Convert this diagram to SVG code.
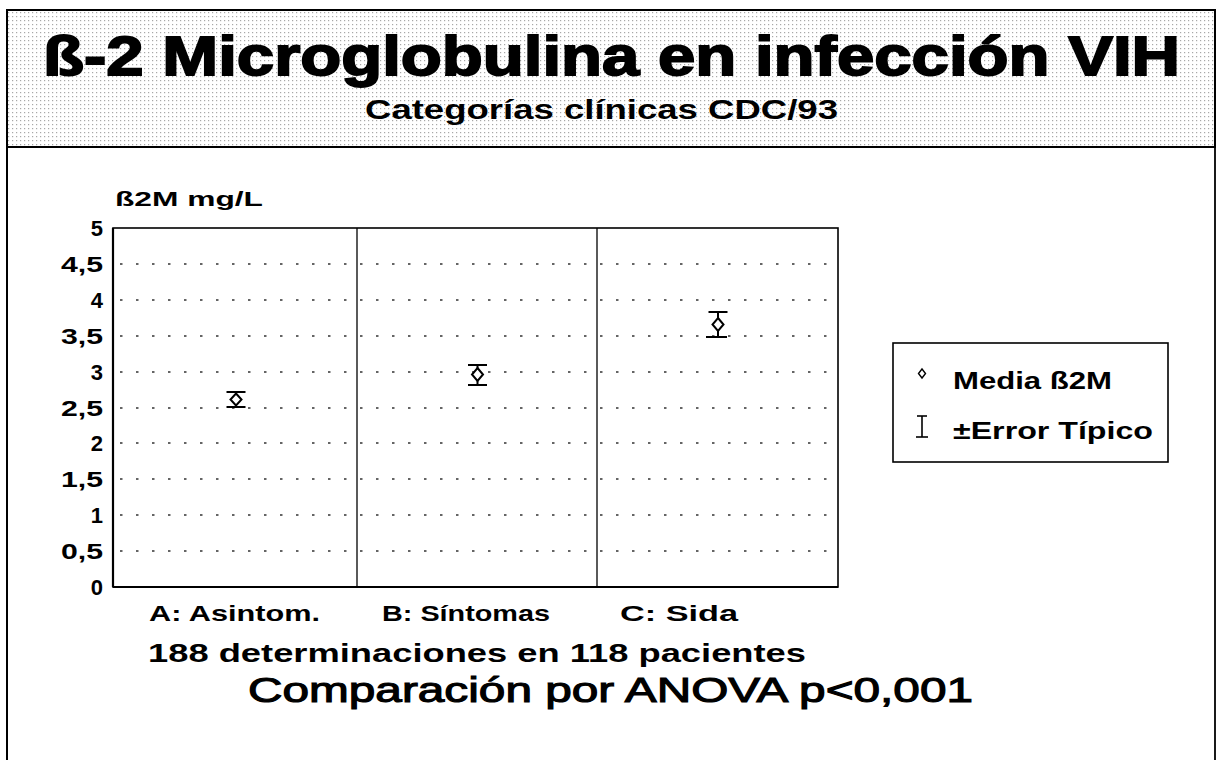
<svg xmlns="http://www.w3.org/2000/svg" width="1218" height="760" viewBox="0 0 1218 760">
  <style>
    .t { font-family: "Liberation Sans", Arial, sans-serif; fill: #000; }
    .b { font-weight: bold; }
    .frame { fill: none; stroke: #000; stroke-width: 1.6; }
    .sep { stroke: #000; stroke-width: 1.3; }
    .grid { stroke: #333; stroke-width: 1.4; stroke-dasharray: 2.5 13.5; }
    .eb { stroke: #000; stroke-width: 2; fill: none; }
    .dia { fill: #fff; stroke: #000; stroke-width: 2; }
    .ytick { font-size: 22px; text-anchor: end; }
    .xlab { font-size: 22px; }
  </style>
  <defs>
    <pattern id="stip" x="0" y="0" width="4" height="4" patternUnits="userSpaceOnUse">
      <rect width="4" height="4" fill="#fff"/>
      <rect x="0" y="0" width="1.2" height="1.2" fill="#a8a8a8"/>
    </pattern>
  </defs>
  <rect width="1218" height="760" fill="#fff"/>

  <!-- outer page border -->
  <g id="page-border">
    <line x1="7" y1="10" x2="7" y2="760" stroke="#000" stroke-width="2"/>
    <line x1="1215" y1="10" x2="1215" y2="760" stroke="#000" stroke-width="1.8"/>
  </g>

  <!-- header -->
  <g id="header">
    <rect x="7" y="10" width="1208" height="137" fill="url(#stip)" stroke="#000" stroke-width="2"/>
    <text class="t b" x="43" y="75" font-size="55" textLength="1137" lengthAdjust="spacingAndGlyphs" stroke="#000" stroke-width="1.8">ß-2 Microglobulina en infección VIH</text>
    <text class="t b" x="365" y="119" font-size="27" textLength="473" lengthAdjust="spacingAndGlyphs">Categorías clínicas CDC/93</text>
  </g>

  <!-- plot -->
  <g id="plot">
    <text class="t b" x="115" y="206" font-size="21" textLength="148" lengthAdjust="spacingAndGlyphs">ß2M mg/L</text>
    <g class="grid">
      <line x1="120" y1="264" x2="838" y2="264"/>
      <line x1="120" y1="300" x2="838" y2="300"/>
      <line x1="120" y1="336" x2="838" y2="336"/>
      <line x1="120" y1="372" x2="838" y2="372"/>
      <line x1="120" y1="408" x2="838" y2="408"/>
      <line x1="120" y1="443" x2="838" y2="443"/>
      <line x1="120" y1="479" x2="838" y2="479"/>
      <line x1="120" y1="515" x2="838" y2="515"/>
      <line x1="120" y1="551" x2="838" y2="551"/>
    </g>
    <rect class="frame" x="113" y="228" width="725" height="359"/>
    <line x1="113" y1="587" x2="838" y2="587" stroke="#000" stroke-width="2.2"/>
    <line x1="113" y1="228" x2="113" y2="587" stroke="#000" stroke-width="2.2"/>
    <line class="sep" x1="357" y1="228" x2="357" y2="587"/>
    <line class="sep" x1="597" y1="228" x2="597" y2="587"/>
    <g class="t b ytick">
      <text x="103" y="236" textLength="15">5</text>
      <text x="103" y="272" textLength="42" lengthAdjust="spacingAndGlyphs">4,5</text>
      <text x="103" y="308" textLength="15">4</text>
      <text x="103" y="344" textLength="42" lengthAdjust="spacingAndGlyphs">3,5</text>
      <text x="103" y="380" textLength="15">3</text>
      <text x="103" y="416" textLength="42" lengthAdjust="spacingAndGlyphs">2,5</text>
      <text x="103" y="451" textLength="15">2</text>
      <text x="103" y="487" textLength="42" lengthAdjust="spacingAndGlyphs">1,5</text>
      <text x="103" y="523" textLength="15">1</text>
      <text x="103" y="559" textLength="42" lengthAdjust="spacingAndGlyphs">0,5</text>
      <text x="103" y="595" textLength="15">0</text>
    </g>
  </g>

  <!-- data points -->
  <g id="point-A">
    <line class="eb" x1="226.5" y1="392" x2="245.5" y2="392"/>
    <line class="eb" x1="226.5" y1="407" x2="245.5" y2="407"/>
    <line class="eb" x1="236" y1="392" x2="236" y2="407"/>
    <path class="dia" d="M236 393.5 L241.5 399.5 L236 405.5 L230.5 399.5 Z"/>
  </g>
  <g id="point-B">
    <line class="eb" x1="468" y1="365" x2="487" y2="365"/>
    <line class="eb" x1="468" y1="385" x2="487" y2="385"/>
    <line class="eb" x1="477.5" y1="365" x2="477.5" y2="385"/>
    <path class="dia" d="M477.5 368 L483 374.5 L477.5 381 L472 374.5 Z"/>
  </g>
  <g id="point-C">
    <line class="eb" x1="708.5" y1="312" x2="727.5" y2="312"/>
    <line class="eb" x1="706" y1="337" x2="727" y2="337"/>
    <line class="eb" x1="718" y1="312" x2="718" y2="337"/>
    <path class="dia" d="M718 318 L723.5 324.5 L718 331 L712.5 324.5 Z"/>
  </g>

  <!-- legend -->
  <g id="legend">
    <rect x="893" y="343" width="275" height="119" fill="#fff" stroke="#000" stroke-width="1.6"/>
    <path d="M922 369 L925.5 373.5 L922 378 L918.5 373.5 Z" fill="#fff" stroke="#000" stroke-width="1.4"/>
    <text class="t b" x="953" y="389" font-size="23" textLength="159" lengthAdjust="spacingAndGlyphs">Media ß2M</text>
    <line x1="917" y1="416" x2="927" y2="416" stroke="#000" stroke-width="1.6"/>
    <line x1="922" y1="416" x2="922" y2="437" stroke="#000" stroke-width="1.6"/>
    <line x1="916" y1="437" x2="928" y2="437" stroke="#000" stroke-width="1.6"/>
    <text class="t b" x="953" y="439" font-size="23" textLength="200" lengthAdjust="spacingAndGlyphs">±Error Típico</text>
  </g>

  <!-- category labels and notes -->
  <g id="labels">
    <text class="t b xlab" x="149" y="621" textLength="171" lengthAdjust="spacingAndGlyphs">A: Asintom.</text>
    <text class="t b xlab" x="382" y="621" textLength="168" lengthAdjust="spacingAndGlyphs">B: Síntomas</text>
    <text class="t b xlab" x="620" y="621" textLength="118" lengthAdjust="spacingAndGlyphs">C: Sida</text>
    <text class="t b" x="148" y="662" font-size="25" textLength="658" lengthAdjust="spacingAndGlyphs">188 determinaciones en 118 pacientes</text>
    <text class="t" x="248" y="702" font-size="35" textLength="725" lengthAdjust="spacingAndGlyphs" stroke="#000" stroke-width="1.1">Comparación por ANOVA p&lt;0,001</text>
  </g>
</svg>
